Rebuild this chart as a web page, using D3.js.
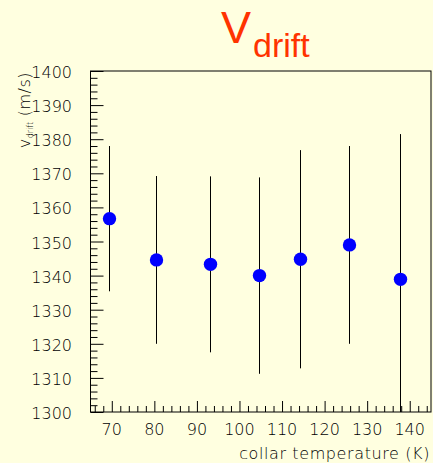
<!DOCTYPE html>
<html>
<head>
<meta charset="utf-8">
<script src="https://cdn.jsdelivr.net/npm/d3@7"></script>
<style>
  html, body { margin: 0; padding: 0; background: #FFFFE0; }
  svg { display: block; }
  .lbl { font-family: "DejaVu Sans", sans-serif; font-weight: 200; fill: #000; }
</style>
</head>
<body>
<svg id="chart" width="433" height="463"></svg>
<script>
// Drift velocity measured at each collar temperature
const temperatures = [69.3, 80.3, 93.1, 104.5, 114.2, 125.8, 137.6];
const velocities   = [1356.7, 1344.6, 1343.3, 1340.0, 1344.8, 1349.0, 1338.9];
const errors       = [21.3, 24.6, 25.8, 28.8, 32.0, 29.0, 42.6];
const xTicks = [70, 80, 90, 100, 110, 120, 130, 140];
const yTicks = [1300, 1310, 1320, 1330, 1340, 1350, 1360, 1370, 1380, 1390, 1400];

const W = 433, H = 463;
const frame = { left: 90.5, right: 431, top: 71, bottom: 412 };

const svg = d3.select("#chart");
svg.append("rect").attr("width", W).attr("height", H).attr("fill", "#FFFFE0");

const x = d3.scaleLinear().domain([65, 145]).range([frame.left, frame.right]);
const y = d3.scaleLinear().domain([1300, 1400]).range([frame.bottom, frame.top]);

// Minor ticks every 2 units, majors every 10
const xMinor = d3.range(66, 145, 2).filter(v => v % 10 !== 0);
const yMinor = d3.range(1302, 1400, 2).filter(v => v % 10 !== 0);

const g = svg.append("g");

// Bottom axis: ticks point inward (up)
const xAxis = g.append("g").attr("transform", `translate(0,${frame.bottom})`);
xAxis.call(d3.axisBottom(x).tickValues(xTicks).tickSize(-11).tickFormat(""));
xAxis.append("g").call(d3.axisBottom(x).tickValues(xMinor).tickSize(-6).tickFormat(""));
xAxis.selectAll(".domain").remove();
xAxis.selectAll("line").attr("stroke", "#000").attr("stroke-width", 1);

// Left axis: ticks point inward (right)
const yAxis = g.append("g").attr("transform", `translate(${frame.left},0)`);
yAxis.call(d3.axisLeft(y).tickValues(yTicks).tickSize(-13).tickFormat(""));
yAxis.append("g").call(d3.axisLeft(y).tickValues(yMinor).tickSize(-7).tickFormat(""));
yAxis.selectAll(".domain").remove();
yAxis.selectAll("line").attr("stroke", "#000").attr("stroke-width", 1);

// Frame
g.append("rect")
  .attr("x", frame.left).attr("y", frame.top)
  .attr("width", frame.right - frame.left).attr("height", frame.bottom - frame.top)
  .attr("fill", "none").attr("stroke", "#000").attr("stroke-width", 1);

// Tick labels
g.selectAll(".xl").data(xTicks).join("text")
  .attr("class", "lbl")
  .attr("x", d => x(d)).attr("y", 435)
  .attr("text-anchor", "middle").attr("font-size", 16)
  .text(d => d);

g.selectAll(".yl").data(yTicks).join("text")
  .attr("class", "lbl")
  .attr("x", 72).attr("y", d => y(d) + 7)
  .attr("text-anchor", "end").attr("font-size", 16)
  .text(d => d);

// Axis titles
g.append("text").attr("class", "lbl")
  .attr("x", 430).attr("y", 459)
  .attr("text-anchor", "end").attr("font-size", 16)
  .attr("letter-spacing", 0.6)
  .text("collar temperature (K)");

const yt = g.append("text").attr("class", "lbl")
  .attr("transform", "translate(30,72) rotate(-90)")
  .attr("text-anchor", "end").attr("font-size", 16);
yt.append("tspan").attr("letter-spacing", 0.5).text("v");
yt.append("tspan").attr("font-size", 8).attr("letter-spacing", 0).attr("dy", 2.5).text("drift");
yt.append("tspan").attr("letter-spacing", 0.5).attr("dy", -2.5).text(" (m/s)");

// Error bars, clipped to the frame
svg.append("clipPath").attr("id", "frameClip")
  .append("rect")
  .attr("x", frame.left).attr("y", frame.top)
  .attr("width", frame.right - frame.left).attr("height", frame.bottom - frame.top);

const pts = temperatures.map((t, i) => ({ t, v: velocities[i], e: errors[i] }));
const plot = svg.append("g").attr("clip-path", "url(#frameClip)");

plot.selectAll(".err").data(pts).join("line")
  .attr("x1", d => Math.round(x(d.t)) + 0.5).attr("x2", d => Math.round(x(d.t)) + 0.5)
  .attr("y1", d => y(d.v + d.e)).attr("y2", d => y(d.v - d.e))
  .attr("stroke", "#000").attr("stroke-width", 1);

plot.selectAll(".pt").data(pts).join("circle")
  .attr("cx", d => Math.round(x(d.t)) + 0.5).attr("cy", d => y(d.v))
  .attr("r", 6.7).attr("fill", "#0000FF");

// Title: V with subscript "drift"
const title = svg.append("text")
  .attr("x", 221).attr("y", 43)
  .attr("font-family", "Liberation Sans, Arial, sans-serif")
  .attr("fill", "#FF3300");
title.append("tspan").attr("font-size", 45).text("V");
title.append("tspan").attr("font-size", 34).attr("dy", 14).attr("dx", 2).text("drift");
</script>
</body>
</html>
